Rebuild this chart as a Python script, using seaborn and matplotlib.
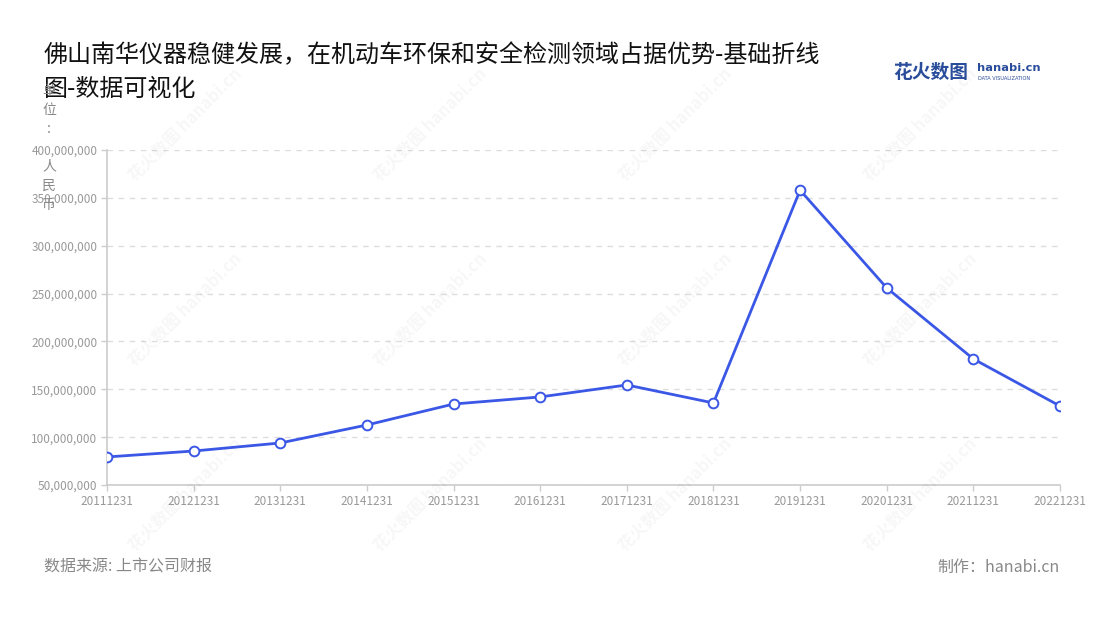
import matplotlib.pyplot as plt
import pandas as pd
import seaborn as sns
from matplotlib.ticker import FuncFormatter

# data
dates = ['20111231', '20121231', '20131231', '20141231', '20151231', '20161231',
         '20171231', '20181231', '20191231', '20201231', '20211231', '20221231']
revenue = [79.3e6, 85.5e6, 93.9e6, 112.7e6, 134.6e6, 142.0e6,
           154.5e6, 135.7e6, 358.0e6, 255.9e6, 181.7e6, 132.5e6]

title = '佛山南华仪器稳健发展，在机动车环保和安全检测领域占据优势-基础折线\n图-数据可视化'
source = '数据来源: 上市公司财报'
maker = '制作：hanabi.cn'

df = pd.DataFrame({'date': dates, 'revenue': revenue})

sns.set_theme(style='white')
plt.rcParams['font.family'] = ['Noto Sans CJK SC', 'DejaVu Sans']

fig = plt.figure(figsize=(11, 6.2), dpi=100)
ax = fig.add_axes([107 / 1100, 1 - 485 / 620, (1060 - 107) / 1100, (485 - 150) / 620])

# faint watermarks
for cx in [185, 430, 675, 920]:
    for cy in [125, 310, 495]:
        fig.text(cx / 1100, 1 - cy / 620, '花火数图 hanabi.cn', rotation=45,
                 ha='center', va='center', fontsize=12, color='#000000',
                 alpha=0.035, fontweight='bold', zorder=0)

sns.lineplot(data=df, x='date', y='revenue', ax=ax, color='#3b57e6', linewidth=2,
             marker='o', markersize=7, markerfacecolor='white',
             markeredgecolor='#3b57e6', markeredgewidth=1.4, zorder=5)

ax.set_xlim(0, len(dates) - 1)
ax.set_ylim(50e6, 400e6)
ax.set_yticks([50e6 * i for i in range(1, 9)])
ax.yaxis.set_major_formatter(FuncFormatter(lambda v, p: f'{int(v):,}'))
ax.set_xlabel('')
ax.set_ylabel('')
ax.grid(axis='y', color='#dddddd', linestyle=(0, (4, 4)), linewidth=1)
ax.grid(axis='x', visible=False)
for s in ['top', 'right']:
    ax.spines[s].set_visible(False)
for s in ['left', 'bottom']:
    ax.spines[s].set_color('#cccccc')
    ax.spines[s].set_linewidth(1.2)
ax.tick_params(axis='both', colors='#cccccc', labelcolor='#999999', labelsize=8.5,
               length=4, width=1, direction='out', pad=3, left=True, bottom=True)
ax.set_facecolor('none')

fig.text(44 / 1100, 1 - 42 / 620, title, ha='left', va='top', fontsize=17.3,
         color='#111111', linespacing=1.4)

# logo text
fig.text(893 / 1100, 1 - 72 / 620, '花火数图', ha='left', va='center', fontsize=13.5,
         color='#2a4d9b', fontweight='bold')
fig.text(977 / 1100, 1 - 68 / 620, 'hanabi.cn', ha='left', va='center', fontsize=8.2,
         color='#2a4d9b', fontweight='bold', family=['DejaVu Sans'])
fig.text(978 / 1100, 1 - 79 / 620, 'DATA VISUALIZATION', ha='left', va='center', fontsize=3.6,
         color='#2a4d9b', family=['DejaVu Sans'])

# vertical unit label
fig.text(49 / 1100, 1 - 84 / 620, '单\n位\n:\n\n人\n民\n币', ha='center', va='top',
         fontsize=10, color='#888888', linespacing=1.45)

fig.text(44 / 1100, 1 - 567 / 620, source, ha='left', va='center', fontsize=11.5, color='#888888')
fig.text(1060 / 1100, 1 - 567 / 620, maker, ha='right', va='center', fontsize=11.5, color='#888888')

fig.savefig('out.png', dpi=100)
